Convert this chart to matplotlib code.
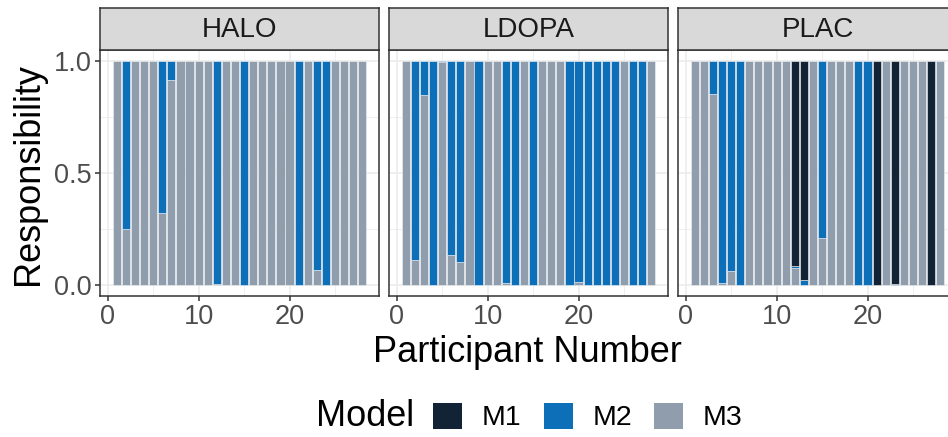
import matplotlib
matplotlib.use("Agg")
import matplotlib.pyplot as plt
from matplotlib.patches import Patch
import numpy as np

plt.rcParams['font.family'] = ['Liberation Sans', 'DejaVu Sans']

participants = list(range(1, 29))
panels = ["HALO", "LDOPA", "PLAC"]
models = ["M1", "M2", "M3"]
colors = {"M1": "#132336", "M2": "#0d6fb8", "M3": "#8f9dad"}

halo_m1 = [0]*28
halo_m2 = [0, 0.75, 0, 0, 0, 0.68, 0.085, 0, 0, 0, 0, 0.995, 0, 0, 1, 0, 0, 0, 0, 0, 1, 0, 0.933, 1, 0, 0, 0, 0]
halo_m3 = [1, 0.25, 1, 1, 1, 0.32, 0.915, 1, 1, 1, 1, 0.005, 1, 1, 0, 1, 1, 1, 1, 1, 0, 1, 0.067, 0, 1, 1, 1, 1]

ldopa_m1 = [0]*28
ldopa_m2 = [0, 0.89, 0.15, 1, 0.005, 0.866, 0.896, 0, 1, 0, 0, 0.993, 1, 0, 1, 0, 0, 0, 1, 0.987, 1, 1, 1, 1, 0, 1, 1, 0]
ldopa_m3 = [1, 0.11, 0.85, 0, 0.995, 0.134, 0.104, 1, 0, 1, 1, 0.007, 0, 1, 0, 1, 1, 1, 0, 0.013, 0, 0, 0, 0, 1, 0, 0, 1]

plac_m1 = [0, 0, 0, 0, 0, 0, 0, 0, 0, 0, 0, 0.915, 0.978, 0, 0, 0, 0, 0, 0, 0, 1, 0, 0.995, 0, 0, 0, 1, 0]
plac_m2 = [0, 0, 0.146, 0.993, 0.94, 1, 0, 0, 0, 0, 0, 0.012, 0.022, 0, 0.79, 0, 0, 0, 1, 1, 0, 0, 0.005, 0, 0, 0, 0, 0]
plac_m3 = [1, 1, 0.854, 0.007, 0.06, 0, 1, 1, 1, 1, 1, 0.073, 0, 1, 0.21, 1, 1, 1, 0, 0, 0, 1, 0, 1, 1, 1, 0, 1]

data = {
    "HALO": {"M1": halo_m1, "M2": halo_m2, "M3": halo_m3},
    "LDOPA": {"M1": ldopa_m1, "M2": ldopa_m2, "M3": ldopa_m3},
    "PLAC": {"M1": plac_m1, "M2": plac_m2, "M3": plac_m3},
}

W, H = 948, 437
fig = plt.figure(figsize=(W/100, H/100), dpi=100)

def px(x0, y0, x1, y1):
    return [x0/W, 1 - y1/H, (x1-x0)/W, (y1-y0)/H]

panel_x = [(100, 379), (389, 668), (678, 957)]
top, bottom = 50, 296
strip_top = 8

tick_color = "#4d4d4d"
border = "#333333"

for i, name in enumerate(panels):
    x0, x1 = panel_x[i]
    ax = fig.add_axes(px(x0, top, x1, bottom))
    x = np.array(participants)
    base = np.zeros(28)
    for m in ["M3", "M2", "M1"]:
        vals = np.array(data[name][m], dtype=float)
        keep = vals > 0
        ax.bar(x[keep], vals[keep], width=0.9, bottom=base[keep], color=colors[m],
               edgecolor="#f2f2f2", linewidth=0.4)
        base = base + vals
    ax.set_xlim(-0.845, 29.845)
    ax.set_ylim(-0.05, 1.05)
    ax.set_xticks([0, 10, 20])
    ax.set_xticks([5, 15, 25], minor=True)
    ax.set_yticks([0, 0.5, 1.0])
    ax.set_yticks([0.25, 0.75], minor=True)
    ax.grid(True, which='major', color="#ebebeb", linewidth=1.1)
    ax.grid(True, which='minor', color="#ebebeb", linewidth=0.55)
    ax.set_axisbelow(True)
    for s in ax.spines.values():
        s.set_color(border)
        s.set_linewidth(1.1)
    ax.tick_params(which='major', length=3.5, width=1.1, color=border,
                   labelsize=19.5, labelcolor=tick_color, pad=2.5)
    ax.tick_params(which='minor', length=0)
    if i == 0:
        ax.set_yticklabels(["0.0", "0.5", "1.0"])
    else:
        ax.set_yticklabels([])
        ax.tick_params(axis='y', which='major', length=0)
    # strip
    sax = fig.add_axes(px(x0, strip_top, x1, top))
    sax.set_facecolor("#d9d9d9")
    sax.set_xticks([]); sax.set_yticks([])
    for s in sax.spines.values():
        s.set_color(border)
        s.set_linewidth(1.1)
    sax.text(0.5, 0.47, name, ha='center', va='center', fontsize=20,
             color="#1a1a1a", transform=sax.transAxes)

fig.text(29/W, 1 - 174/H, "Responsibility", rotation=90, ha='center', va='center',
         fontsize=26, color="black")
fig.text(527/W, 1 - 352/H, "Participant Number", ha='center', va='center',
         fontsize=26, color="black")

fig.text(365/W, 1 - 417/H, "Model", ha='center', va='center', fontsize=26, color="black")
handles = [Patch(facecolor=colors[m], edgecolor='none', label=m) for m in models]
leg = fig.legend(handles=handles, loc='center left', bbox_to_anchor=(433/W, 1 - 417/H),
                 ncol=3, frameon=False, fontsize=20.5, handlelength=1.02, handleheight=1.02,
                 handletextpad=0.7, columnspacing=0.77, borderaxespad=0, borderpad=0)

fig.savefig("out.png", dpi=100)
